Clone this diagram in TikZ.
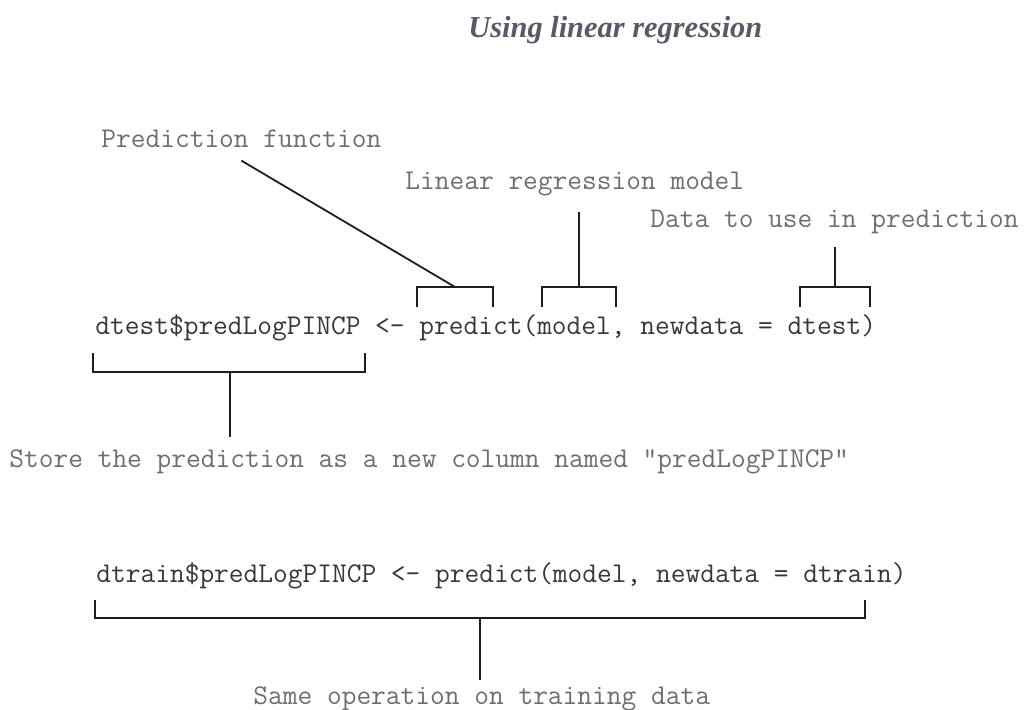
\documentclass[tikz,border=0pt]{standalone}
\usepackage{fontspec}
\setmainfont{Liberation Serif}
\usepackage{tikz}
\usetikzlibrary{calc}
\definecolor{codegray}{RGB}{55,55,55}
\definecolor{notegray}{RGB}{110,110,110}
\definecolor{titlegray}{RGB}{88,90,102}
\definecolor{inkline}{RGB}{30,30,30}

\begin{document}
\begin{tikzpicture}[
  x=0.5pt, y=-0.5pt,
  code/.style={anchor=base west, inner sep=0pt, text=codegray, font=\fontsize{14.3}{16}\selectfont\ttfamily},
  note/.style={anchor=base west, inner sep=0pt, text=notegray, font=\fontsize{14.3}{16}\selectfont\ttfamily},
  brk/.style={draw=inkline, line width=0.9pt},
]
\useasboundingbox (0,0) rectangle (1035,709);
\node[anchor=base west, inner sep=0pt, text=titlegray, font=\fontsize{15.2}{18}\selectfont\bfseries\itshape]
  (title) at (468,37) {Using linear regression};

% labels and code lines
\node[note] (predfun) at (101,147) {Prediction function};
\node[note] (lrm) at (405,189) {Linear regression model};
\node[note] (usedata) at (650,227) {Data to use in prediction};
\node[code] (test) at (95,334) {dtest\$predLogPINCP <- predict(model, newdata = dtest)};
\node[note] (store) at (9,467) {Store the prediction as a new column named "predLogPINCP"};
\node[code] (train) at (96,582) {dtrain\$predLogPINCP <- predict(model, newdata = dtrain)};
\node[note] (same) at (253,704) {Same operation on training data};

% brackets over the first line
\coordinate (pfTip) at (455,287);
\coordinate (mdTip) at (579,287);
\coordinate (dtTip) at (835,287);
\draw[brk] (417,307) |- (pfTip) -| (493,307);
\draw[brk] (542,307) |- (mdTip) -| (616,307);
\draw[brk] (800,307) |- (dtTip) -| (870,307);
\draw[brk] ([yshift=-6.5pt]predfun.south) -- (pfTip);
\draw[brk, shorten <=8pt] (mdTip |- lrm.south) -- (mdTip);
\draw[brk, shorten <=6.5pt] (dtTip |- usedata.south) -- (dtTip);

% brackets under the code lines
\coordinate (stTip) at (230,372);
\coordinate (trTip) at (480,618);
\draw[brk] (93,353) |- (stTip) -| (365,353);
\draw[brk, shorten >=6pt] (stTip) -- (stTip |- store.north);
\draw[brk] (95,600) |- (trTip) -| (865,600);
\draw[brk, shorten >=3pt] (trTip) -- (trTip |- same.north);
\end{tikzpicture}
\end{document}
